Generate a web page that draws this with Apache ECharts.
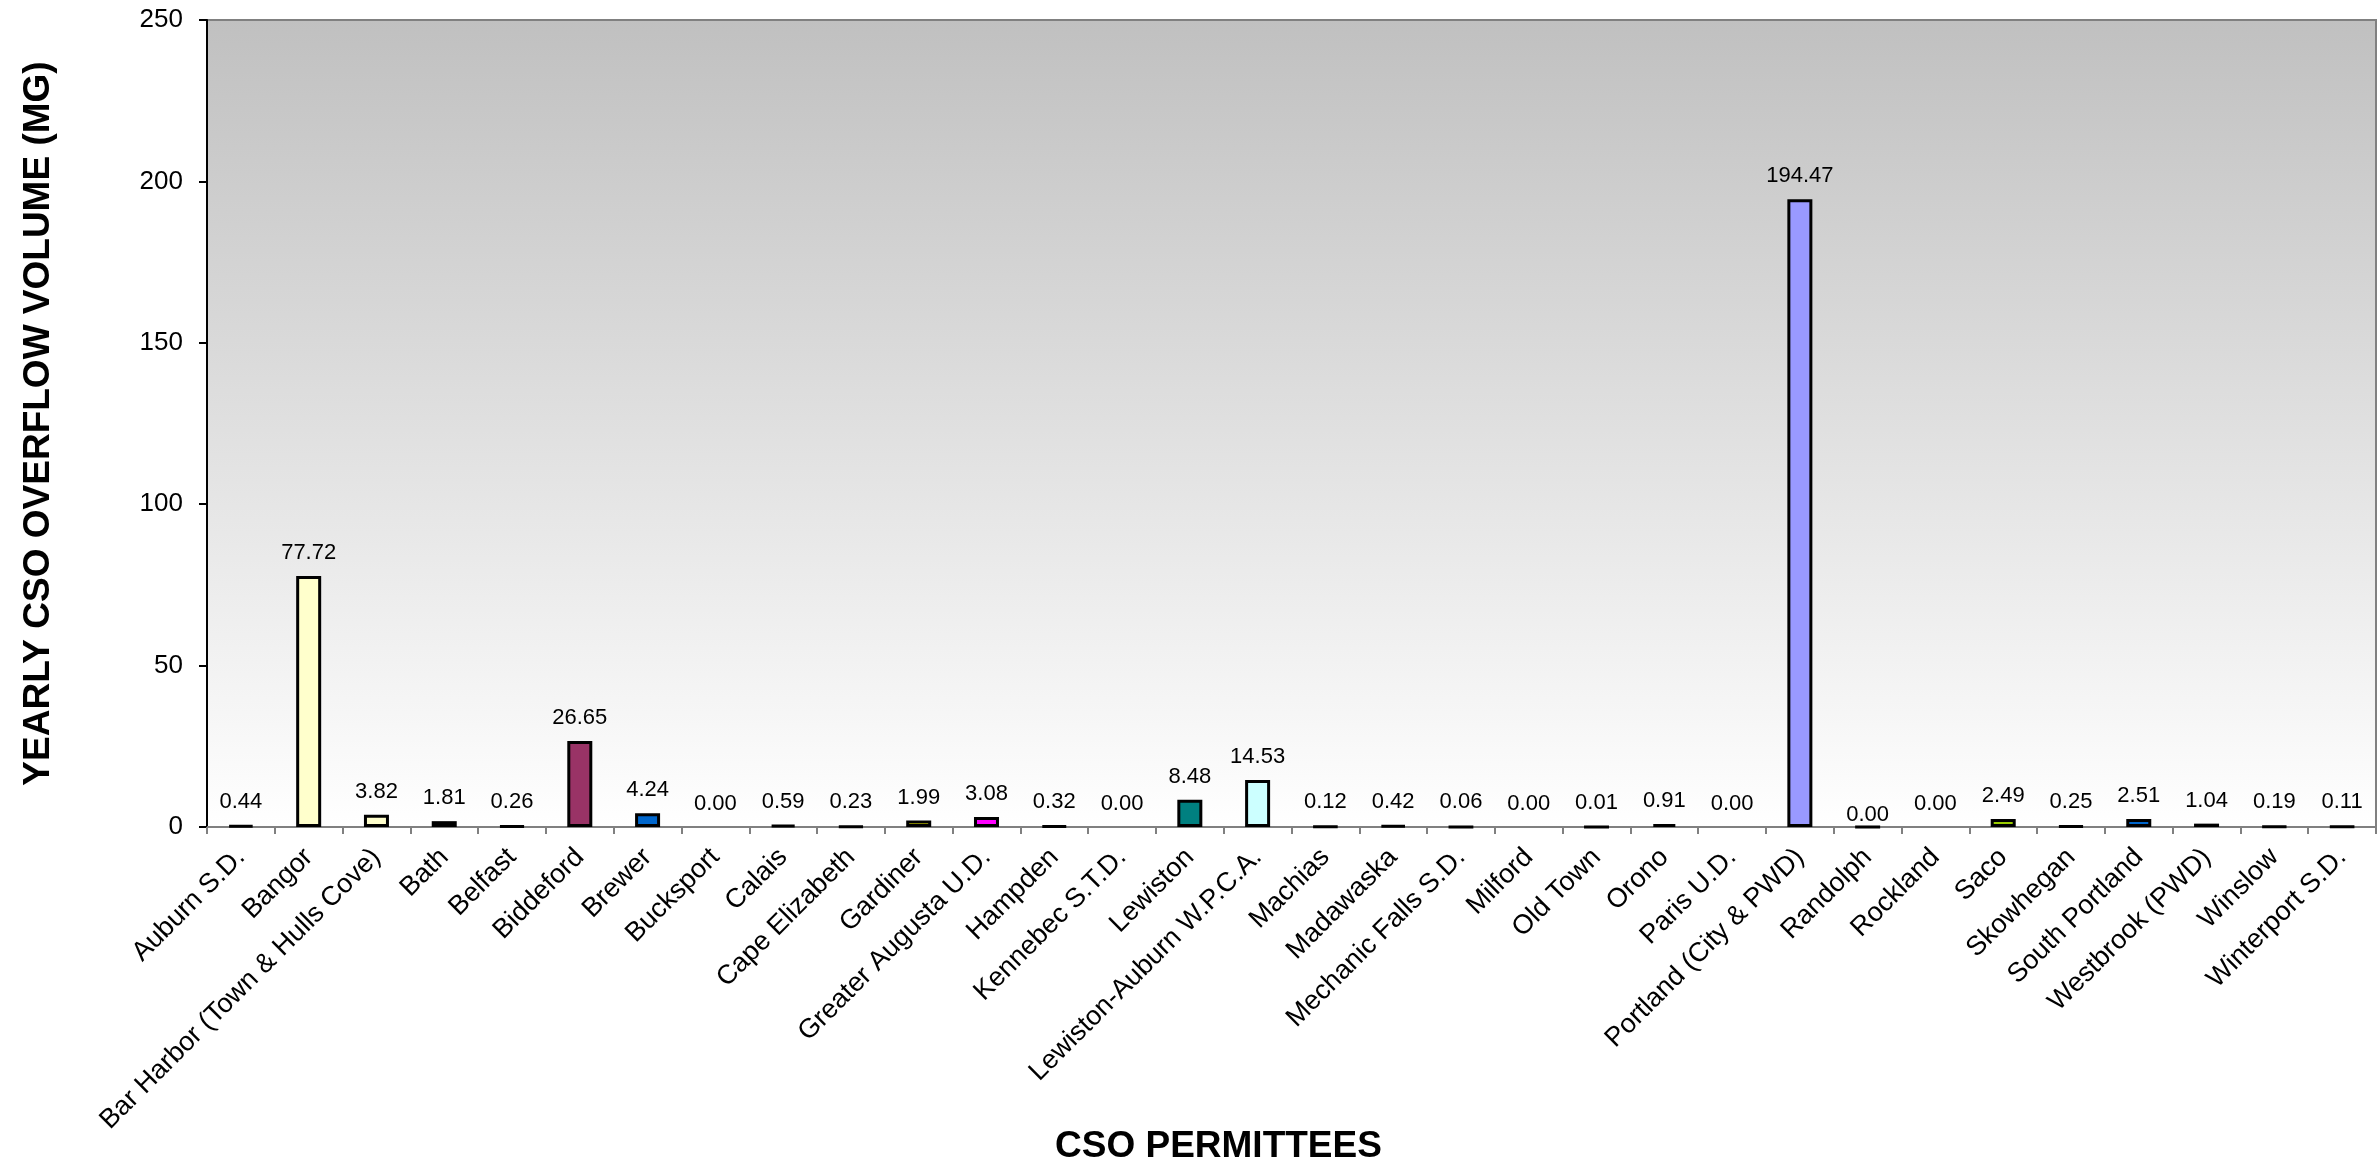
<!DOCTYPE html>
<html>
<head>
<meta charset="utf-8">
<title>Yearly CSO Overflow Volume</title>
<script src="https://cdn.jsdelivr.net/npm/echarts@6/dist/echarts.min.js"></script>
<style>
  html, body { margin: 0; padding: 0; background: #fff; }
  #chart { width: 2377px; height: 1167px; }
</style>
</head>
<body>
<div id="chart"></div>
<script>
// permittees and yearly overflow volume (MG)
var permittees = [
  'Auburn S.D.', 'Bangor', 'Bar Harbor (Town & Hulls Cove)', 'Bath', 'Belfast',
  'Biddeford', 'Brewer', 'Bucksport', 'Calais', 'Cape Elizabeth', 'Gardiner',
  'Greater Augusta U.D.', 'Hampden', 'Kennebec S.T.D.', 'Lewiston',
  'Lewiston-Auburn W.P.C.A.', 'Machias', 'Madawaska', 'Mechanic Falls S.D.',
  'Milford', 'Old Town', 'Orono', 'Paris U.D.', 'Portland (City & PWD)',
  'Randolph', 'Rockland', 'Saco', 'Skowhegan', 'South Portland',
  'Westbrook (PWD)', 'Winslow', 'Winterport S.D.'
];
var volumes = [
  0.44, 77.72, 3.82, 1.81, 0.26,
  26.65, 4.24, 0.00, 0.59, 0.23, 1.99,
  3.08, 0.32, 0.00, 8.48,
  14.53, 0.12, 0.42, 0.06,
  0.00, 0.01, 0.91, 0.00, 194.47,
  0.00, 0.00, 2.49, 0.25, 2.51,
  1.04, 0.19, 0.11
];
var barColors = [
  '#333399', '#FFFFCC', '#FFFFCC', '#00FFFF', '#800080',
  '#993366', '#0066CC', '#FFFFFF', '#000080', '#FF00FF', '#FFFF00',
  '#FF00FF', '#800080', '#FFFFFF', '#008080',
  '#CCFFFF', '#0000FF', '#00CCFF', '#CCFFCC',
  '#FFFFFF', '#FFFF99', '#800000', '#FFFFFF', '#9999FF',
  '#FF99CC', '#FFFFFF', '#99CC00', '#FFCC00', '#0066CC',
  '#FF6600', '#FF9900', '#666699'
];
var yTicks = [0, 50, 100, 150, 200, 250];

var chart = echarts.init(document.getElementById('chart'));

var barData = volumes.map(function (v, i) {
  var item = { value: v, itemStyle: { color: barColors[i] } };
  // empty bars draw no outline, except Randolph which shows one
  if (v === 0 && permittees[i] !== 'Randolph') {
    item.itemStyle.borderWidth = 0;
  }
  if (permittees[i] === 'Randolph') {
    item.label = { offset: [0, 12] };
  }
  return item;
});

var option = {
  animation: false,
  title: {
    text: 'CSO PERMITTEES',
    left: 1050,
    top: 1123,
    textStyle: {
      fontFamily: "'Liberation Sans Narrow', 'Liberation Sans', Arial",
      fontWeight: 'bold',
      fontSize: 37,
      color: '#000'
    }
  },
  grid: {
    left: 207,
    top: 20,
    right: 1,
    bottom: 340,
    show: true,
    borderColor: '#808080',
    borderWidth: 2,
    backgroundColor: {
      type: 'linear', x: 0, y: 0, x2: 0, y2: 1,
      colorStops: [
        { offset: 0, color: '#C0C0C0' },
        { offset: 1, color: '#FFFFFF' }
      ]
    }
  },
  xAxis: {
    type: 'category',
    data: permittees,
    axisLine: { lineStyle: { color: '#808080', width: 2 } },
    axisTick: { show: true, length: 7, lineStyle: { color: '#808080', width: 2 } },
    axisLabel: {
      interval: 0,
      rotate: 45,
      margin: 26,
      fontFamily: "'Liberation Sans', Arial",
      fontSize: 27,
      color: '#000'
    }
  },
  yAxis: {
    type: 'value',
    min: yTicks[0],
    max: yTicks[yTicks.length - 1],
    interval: 50,
    name: 'YEARLY CSO OVERFLOW VOLUME (MG)',
    nameLocation: 'middle',
    nameRotate: 90,
    nameGap: 150,
    nameTextStyle: {
      fontFamily: "'Liberation Sans', Arial",
      fontWeight: 'bold',
      fontSize: 37,
      color: '#000'
    },
    splitLine: { show: false },
    axisLine: { show: true, lineStyle: { color: '#000', width: 2 } },
    axisTick: { show: true, length: 8, lineStyle: { color: '#000', width: 2 } },
    axisLabel: {
      margin: 24,
      fontFamily: "'Liberation Sans', Arial",
      fontSize: 26,
      color: '#000'
    }
  },
  series: [{
    type: 'bar',
    data: barData,
    barWidth: 25,
    itemStyle: { borderColor: '#000', borderWidth: 3 },
    label: {
      show: true,
      position: 'top',
      distance: 12,
      fontFamily: "'Liberation Sans', Arial",
      fontSize: 22,
      color: '#000',
      formatter: function (p) { return p.value.toFixed(2); }
    }
  }]
};

chart.setOption(option);
</script>
</body>
</html>
